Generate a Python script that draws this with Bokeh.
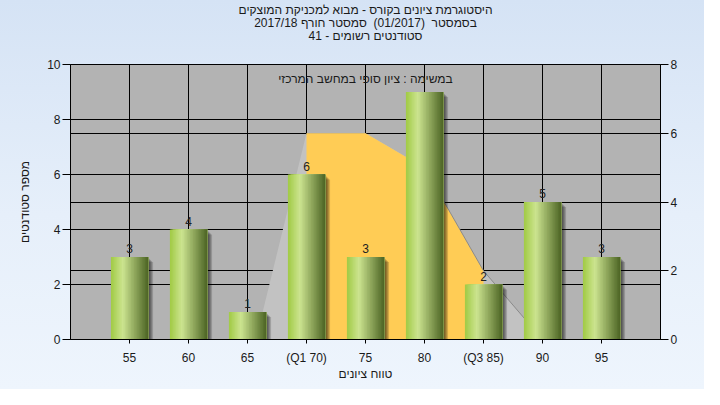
from bokeh.plotting import figure
from bokeh.models import Range1d, LinearAxis, FixedTicker, Grid, Label, Title, ColumnDataSource
from bokeh.embed import file_html
from bokeh.resources import INLINE
from bokeh.core.properties import value

# ---------------- data ----------------
grades = ["55", "60", "65", "(Q1 70)", "75", "80", "(Q3 85)", "90", "95"]
counts = [3, 4, 1, 6, 3, 9, 2, 5, 3]
# distribution curve (right axis)
dist_grades = ["65", "(Q1 70)", "75", "80", "(Q3 85)", "90"]
dist_values = [-1, 6, 6, 5, 2, 0]
# inter-quartile part (filled yellow)
iqr_grades = ["(Q1 70)", "75", "80", "(Q3 85)"]
iqr_values = [6, 6, 5, 2]
left_ticks = [0, 2, 4, 6, 8, 10]
right_ticks = [0, 2, 4, 6, 8]

title_lines = [
    "היסטוגרמת ציונים בקורס - מבוא למכניקת המוצקים",
    "בסמסטר\u00a0\u00a0(01/2017)\u00a0\u00a0סמסטר חורף 2017/18",
    "סטודנטים רשומים - 41",
]
subtitle = "במשימה : ציון סופי במחשב המרכזי"
x_title = "טווח ציונים"
y_title = "מספר סטודנטים"

# ---------------- figure ----------------
pos = {g: i + 1 for i, g in enumerate(grades)}
xs = [pos[g] for g in grades]

FONT = "Liberation Sans"
TXT = "#1a1a1a"

p = figure(width=704, height=389, output_backend="svg", toolbar_location=None,
           x_range=Range1d(0, len(grades) + 1), y_range=Range1d(0, 10),
           min_border_left=70, min_border_right=44, min_border_top=64, min_border_bottom=50,
           background_fill_color="#b3b3b3", border_fill_color=None,
           outline_line_color="black", outline_line_width=1)
p.styles = {"background": "linear-gradient(to bottom, #d5e3f5 0%, #e6effa 55%, #eef5fd 100%)"}
p.extra_y_ranges = {"right": Range1d(0, 8)}

# titles: first added sits closest to the plot (a blank spacer first)
p.add_layout(Title(text=" ", text_font=FONT, text_font_size="12px", standoff=7), "above")
for line in reversed(title_lines):
    p.add_layout(Title(text=line, align="center", text_font=FONT, text_font_size="12px",
                       text_font_style="normal", text_color=TXT, standoff=-3), "above")

# axes
xaxis = p.below[0]
yaxis = p.left[0]
xaxis.ticker = FixedTicker(ticks=xs)
xaxis.major_label_overrides = {x: g for x, g in zip(xs, grades)}
yaxis.ticker = FixedTicker(ticks=left_ticks)
raxis = LinearAxis(y_range_name="right", ticker=FixedTicker(ticks=right_ticks))
p.add_layout(raxis, "right")

for ax in [xaxis, yaxis, raxis]:
    ax.axis_line_color = "black"
    ax.major_tick_line_color = "black"
    ax.minor_tick_line_color = None
    ax.major_tick_in = 0
    ax.major_label_text_font = FONT
    ax.major_label_text_font_size = "12px"
    ax.major_label_text_color = TXT
    ax.axis_label_text_font = FONT
    ax.axis_label_text_font_size = "12px"
    ax.axis_label_text_font_style = "normal"
    ax.axis_label_text_color = TXT

yaxis.major_tick_out = 8
raxis.major_tick_out = 8
yaxis.major_label_standoff = 2
raxis.major_label_standoff = 2
xaxis.major_tick_out = 4
xaxis.major_label_standoff = 7
xaxis.axis_label = x_title
xaxis.axis_label_standoff = -1
yaxis.axis_label = y_title
yaxis.axis_label_standoff = 12

# grids
p.xgrid.grid_line_color = "black"
p.xgrid.grid_line_alpha = 1
p.ygrid.grid_line_color = "black"
p.ygrid.grid_line_alpha = 1
p.add_layout(Grid(dimension=1, ticker=FixedTicker(ticks=right_ticks), y_range_name="right",
                  grid_line_color="black", grid_line_alpha=1))

# distribution area (gray) and IQR (yellow)
dx = [pos[g] for g in dist_grades]
p.patch(dx + [dx[-1], dx[0]], dist_values + [-1, -1], y_range_name="right",
        fill_color="#c2c2c2", line_color=None)
ix = [pos[g] for g in iqr_grades]
p.varea(x=ix, y1=[0] * len(ix), y2=iqr_values, y_range_name="right", fill_color="#ffcc55")
p.line(dx[3:], dist_values[3:], y_range_name="right", line_color="#8a8a8a", line_width=1)

# bar shadows
bar_w = 0.63
ppx = (len(grades) + 1) / 590.0   # data units per px (x)
ppy = 10 / 275.0                  # data units per px (y)
for k in range(1, 6):
    p.vbar(x=[x + k * ppx for x in xs], width=bar_w, top=[c - k * ppy for c in counts],
           bottom=0, fill_color="black", fill_alpha=0.16, line_color=None)

# gradient bars built from overlapping strips (each strip runs to the bar's right edge)
stops = [(0.0, (160, 202, 68)), (0.32, (204, 228, 144)), (1.0, (76, 100, 36))]


def grad(t):
    for (t0, c0), (t1, c1) in zip(stops[:-1], stops[1:]):
        if t0 <= t <= t1:
            f = (t - t0) / (t1 - t0)
            return "#%02x%02x%02x" % tuple(int(round(a + (b - a) * f)) for a, b in zip(c0, c1))
    return "#%02x%02x%02x" % stops[-1][1]


N = 24
sl, sr, st, sc = [], [], [], []
for x, c in zip(xs, counts):
    for j in range(N):
        t = (j + 0.5) / N
        sl.append(x - bar_w / 2 + j * bar_w / N)
        sr.append(x + bar_w / 2)
        st.append(c)
        sc.append(grad(t))
src = ColumnDataSource(dict(left=sl, right=sr, top=st, color=sc))
p.quad(left="left", right="right", top="top", bottom=0, fill_color="color",
       line_color=None, source=src)

# value labels (the tallest one is hidden under the in-plot subtitle)
lx = [x for x, c in zip(xs, counts) if c < 8.5]
lc = [c for c in counts if c < 8.5]
p.text(x=lx, y=lc, text=[str(c) for c in lc], text_align="center", text_baseline="bottom",
       y_offset=-4, text_font=value(FONT), text_font_size="12px", text_color="#222222")

# in-plot subtitle
p.add_layout(Label(x=(373 - 78) * ppx, y=(347 - 86) * ppy, text=subtitle, text_align="center",
                   text_baseline="middle", text_font=FONT, text_font_size="12px",
                   text_color=TXT))

open("out.html", "w").write(file_html(p, INLINE))
